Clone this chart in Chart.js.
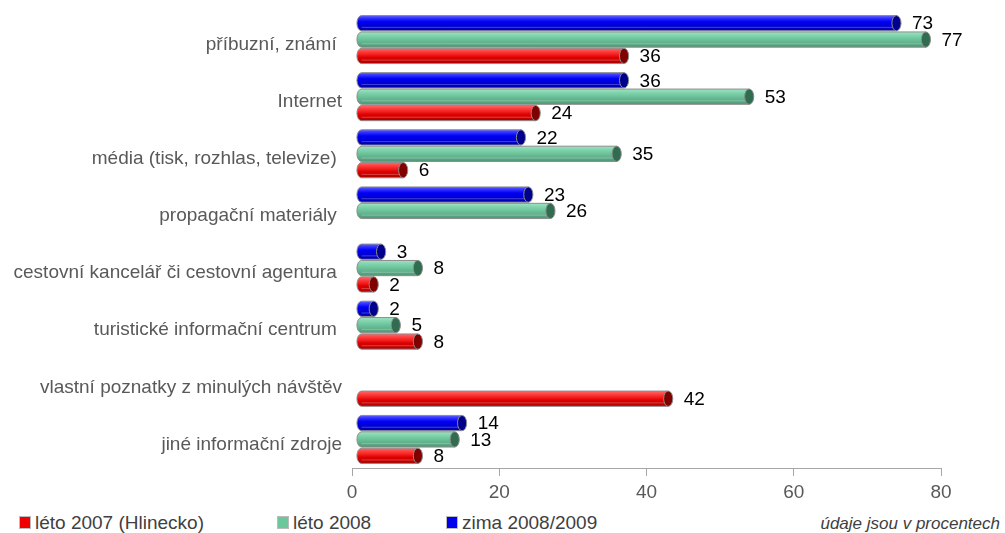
<!DOCTYPE html>
<html>
<head>
<meta charset="utf-8">
<script src="https://cdn.jsdelivr.net/npm/chart.js@4/dist/chart.umd.min.js"></script>
<style>
  body { margin: 0; background: #fff; font-family: "Liberation Sans", Arial, sans-serif; }
  #wrap { position: relative; width: 1005px; height: 533px; }
  #chart { position: absolute; left: 0; top: 0; }
  .legend { position: absolute; top: 512px; font-size: 19px; line-height: 22px; color: #404040; white-space: nowrap; }
  .legend i { display: inline-block; width: 10px; height: 11px; margin-right: 4px; vertical-align: 0px; border: 1px solid #bbb; }
  .note { position: absolute; top: 514px; right: 5px; font-size: 17px; line-height: 20px; font-style: italic; color: #404040; }
</style>
</head>
<body>
<div id="wrap">
  <canvas id="chart" width="1005" height="505"></canvas>
  <div class="legend" style="left:19px"><i style="background:#f00000"></i>léto 2007 (Hlinecko)</div>
  <div class="legend" style="left:277px"><i style="background:#6cc89c"></i>léto 2008</div>
  <div class="legend" style="left:446px"><i style="background:#0000f0"></i>zima 2008/2009</div>
  <div class="note">údaje jsou v procentech</div>
</div>
<script>
const categories = [
  'příbuzní, známí ',
  'Internet',
  'média (tisk, rozhlas, televize) ',
  'propagační materiály ',
  'cestovní kancelář či cestovní agentura ',
  'turistické informační centrum ',
  'vlastní poznatky z minulých návštěv',
  'jiné informační zdroje'
];
const zima2008 = [73, 36, 22, 23, 3, 2, null, 14];
const leto2008 = [77, 53, 35, 26, 8, 5, null, 13];
const leto2007 = [36, 24, 6, null, 2, 8, 42, 8];
const xTicks = [0, 20, 40, 60, 80];

// cylinder palettes: body gradient stops + cap colour
const palettes = {
  blue:  { stops: ['#6060ff', '#2a2aff', '#0000f4', '#0000dc', '#0000c4', '#0000a8'], cap: '#00008c' },
  green: { stops: ['#9fe4c2', '#84d6b0', '#72c9a0', '#66b993', '#5aa884', '#4e9674'], cap: '#2f6c50' },
  red:   { stops: ['#ff6a6a', '#ff4040', '#f42020', '#dc0000', '#c80000', '#a80000'], cap: '#800000' }
};

const drawCylinder = (ctx, base, end, yc, h, pal) => {
  const ry = h / 2;
  const rx = Math.max(3, h * 0.3);
  const x0 = base + 9;
  const x1 = Math.max(end + 7, x0 + 2);
  const g = ctx.createLinearGradient(0, yc - ry, 0, yc + ry);
  pal.stops.forEach((c, i) => g.addColorStop(i / (pal.stops.length - 1), c));

  ctx.beginPath();
  ctx.moveTo(x1, yc - ry);
  ctx.lineTo(x0, yc - ry);
  ctx.ellipse(x0, yc, rx, ry, 0, -Math.PI / 2, Math.PI / 2, true);
  ctx.lineTo(x1, yc + ry);
  ctx.closePath();
  ctx.fillStyle = g;
  ctx.fill();
  ctx.lineWidth = 1;
  ctx.strokeStyle = '#8c8c8c';
  ctx.stroke();

  // thin highlight line near the bottom
  ctx.beginPath();
  ctx.moveTo(x0, yc + ry * 0.55);
  ctx.lineTo(x1, yc + ry * 0.55);
  ctx.strokeStyle = 'rgba(255,255,255,0.25)';
  ctx.stroke();

  ctx.beginPath();
  ctx.ellipse(x1, yc, rx, ry, 0, 0, Math.PI * 2);
  ctx.fillStyle = pal.cap;
  ctx.fill();
  ctx.strokeStyle = '#8c8c8c';
  ctx.stroke();
  return x1 + rx;
};

const cylinderPlugin = {
  id: 'cylinders',
  afterDatasetsDraw(chart) {
    const ctx = chart.ctx;
    ctx.save();
    chart.data.datasets.forEach((ds, di) => {
      const meta = chart.getDatasetMeta(di);
      meta.data.forEach((bar, i) => {
        const v = ds.data[i];
        if (v === null || v === undefined) return;
        const right = drawCylinder(ctx, bar.base, bar.x, bar.y, bar.height, palettes[ds.palette]);
        ctx.fillStyle = '#000';
        ctx.font = '19px "Liberation Sans", Arial, sans-serif';
        ctx.textAlign = 'left';
        ctx.textBaseline = 'middle';
        ctx.fillText(String(v), right + 11, bar.y + 1);
      });
    });
    ctx.restore();
  }
};

const ctx = document.getElementById('chart').getContext('2d');
new Chart(ctx, {
  type: 'bar',
  data: {
    labels: categories,
    datasets: [
      { label: 'zima 2008/2009', data: zima2008, palette: 'blue', backgroundColor: 'rgba(0,0,0,0)' },
      { label: 'léto 2008', data: leto2008, palette: 'green', backgroundColor: 'rgba(0,0,0,0)' },
      { label: 'léto 2007 (Hlinecko)', data: leto2007, palette: 'red', backgroundColor: 'rgba(0,0,0,0)' }
    ]
  },
  options: {
    indexAxis: 'y',
    responsive: false,
    animation: false,
    categoryPercentage: 0.86,
    barPercentage: 0.93,
    layout: { padding: { top: 11, right: 64, bottom: 0, left: 0 } },
    plugins: { legend: { display: false }, tooltip: { enabled: false } },
    scales: {
      x: {
        min: 0,
        max: 80,
        afterBuildTicks: scale => { scale.ticks = xTicks.map(v => ({ value: v })); },
        afterFit: scale => { scale.height = 37; },
        ticks: {
          padding: 5,
          color: '#595959',
          font: { size: 19, family: '"Liberation Sans", Arial, sans-serif' }
        },
        grid: { drawOnChartArea: false, drawTicks: true, tickLength: 8, color: '#a6a6a6' },
        border: { display: true, color: '#a6a6a6' }
      },
      y: {
        afterFit: scale => {
          scale.width = 352;
          scale.paddingTop = 0;
          scale.paddingBottom = 0;
        },
        ticks: {
          padding: 10,
          labelOffset: 5,
          color: '#595959',
          font: { size: 19, family: '"Liberation Sans", Arial, sans-serif' }
        },
        grid: { display: false, drawTicks: false },
        border: { display: false }
      }
    }
  },
  plugins: [cylinderPlugin]
});
</script>
</body>
</html>
